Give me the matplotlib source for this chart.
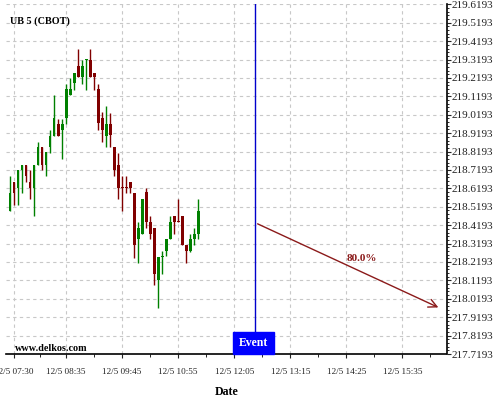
import numpy as np
import pandas as pd
import matplotlib
matplotlib.use("Agg")
import matplotlib.pyplot as plt
from matplotlib.ticker import FixedLocator, FuncFormatter, AutoMinorLocator
from matplotlib.patches import Rectangle
import matplotlib.transforms as mtransforms

# ---------------- data ----------------
title = "UB 5 (CBOT)"
bar_start = "07:25"   # first 5-minute bar
bar_step_min = 5
opens = [218.497, 218.655, 218.624, 218.721, 218.748, 218.655, 218.624, 218.748, 218.846, 218.748,
         218.846, 218.906, 218.970, 218.939, 219.001, 219.125, 219.192, 219.283, 219.223, 219.316,
         219.316, 219.248, 219.157, 219.001, 218.906, 218.970, 218.846, 218.748, 218.628, 218.628,
         218.655, 218.594, 218.346, 218.374, 218.597, 218.439, 218.406, 218.121, 218.248, 218.279,
         218.346, 218.470, 218.443, 218.470, 218.312, 218.279, 218.346, 218.374]
highs = [218.688, 218.655, 218.721, 218.748, 218.748, 218.721, 218.748, 218.874, 218.846, 218.815,
         218.939, 219.125, 218.997, 218.997, 219.188, 219.219, 219.248, 219.379, 219.316, 219.321,
         219.379, 219.248, 219.188, 219.033, 219.065, 219.028, 218.846, 218.810, 218.688, 218.688,
         218.655, 218.594, 218.437, 218.561, 218.621, 218.470, 218.406, 218.246, 218.279, 218.346,
         218.470, 218.470, 218.561, 218.470, 218.312, 218.374, 218.406, 218.561]
lows = [218.494, 218.530, 218.530, 218.596, 218.655, 218.563, 218.470, 218.748, 218.721, 218.688,
        218.814, 218.903, 218.903, 218.779, 218.970, 219.125, 219.156, 219.223, 219.188, 219.156,
        219.223, 219.156, 218.937, 218.870, 218.843, 218.846, 218.688, 218.561, 218.497, 218.594,
        218.594, 218.243, 218.215, 218.370, 218.403, 218.343, 218.092, 217.967, 218.152, 218.252,
        218.343, 218.374, 218.439, 218.312, 218.215, 218.275, 218.312, 218.343]
closes = [218.594, 218.594, 218.721, 218.748, 218.688, 218.624, 218.748, 218.846, 218.748, 218.815,
          218.906, 219.001, 218.906, 218.970, 219.157, 219.157, 219.248, 219.223, 219.283, 219.321,
          219.223, 219.223, 218.973, 218.939, 218.970, 218.908, 218.721, 218.624, 218.624, 218.624,
          218.624, 218.312, 218.406, 218.561, 218.439, 218.374, 218.155, 218.246, 218.252, 218.346,
          218.437, 218.437, 218.439, 218.312, 218.279, 218.346, 218.374, 218.497]

event_time = "12:31"
event_label = "Event"
arrow_start_price = 218.433
arrow_end_time = "16:23"
arrow_end_price = 217.966
arrow_label = "80.0%"

x_tick_times = ["07:30", "08:35", "09:45", "10:55", "12:05", "13:15", "14:25", "15:35"]
x_minor_times = ["08:02", "09:10", "10:20", "11:30", "12:40", "13:50", "15:00", "16:10"]
y_ticks = [217.7193, 217.8193, 217.9193, 218.0193, 218.1193, 218.2193, 218.3193, 218.4193,
           218.5193, 218.6193, 218.7193, 218.8193, 218.9193, 219.0193, 219.1193, 219.2193,
           219.3193, 219.4193, 219.5193, 219.6193]
x_range = ("07:20", "16:30")
y_range = (217.7193, 219.6213)
date_prefix = "12/5"
x_label = "Date"
watermark = "www.delkos.com"


def to_min(s):
    h, m = s.split(":")
    return int(h) * 60 + int(m)


# ---------------- figure ----------------
plt.rcParams["font.family"] = ["Liberation Serif", "DejaVu Serif"]
fig = plt.figure(figsize=(5, 4), dpi=100)
ax = fig.add_axes([0.012, 0.115, 0.881, 0.875])

up_c = "#008000"
dn_c = "#800000"

t0 = to_min(bar_start)
times = pd.Series(np.arange(len(opens)) * bar_step_min + t0)
o = np.array(opens); h = np.array(highs); l = np.array(lows); c = np.array(closes)
cols = [up_c if cc >= oo else dn_c for oo, cc in zip(o, c)]

ax.vlines(times, l, h, colors=cols, linewidth=1.0, zorder=3)
body_bot = np.minimum(o, c)
body_h = np.maximum(np.abs(c - o), 0.004)
ax.bar(times, body_h, bottom=body_bot, width=3.6, color=cols, linewidth=0, zorder=4)

# event line
ev = to_min(event_time)
ax.axvline(ev, color="#0000cc", linewidth=1.0, zorder=5)
trans = mtransforms.blended_transform_factory(ax.transData, ax.transAxes)
ax.add_patch(Rectangle((ev - 27, 0.0), 51, 0.063, transform=trans, color="#0000ff",
                       zorder=6, clip_on=False))
ax.text(ev - 1.5, 0.031, event_label, transform=trans, color="white", fontweight="bold",
        fontsize=8.5, ha="center", va="center", zorder=7)

# forecast arrow
arr_c = "#8b1a1a"
ax.annotate("", xy=(to_min(arrow_end_time), arrow_end_price), xytext=(ev, arrow_start_price),
            arrowprops=dict(arrowstyle="->,head_length=0.6,head_width=0.3", color=arr_c, lw=1.0),
            zorder=6)
ax.text(to_min("14:44"), 218.236, arrow_label, color=arr_c, fontweight="bold",
        fontsize=8, ha="center", va="center", zorder=7)

# texts
ax.text(to_min("07:25"), 219.528, title, fontweight="bold", fontsize=7.3,
        ha="left", va="center")
ax.text(to_min("07:31"), 217.750, watermark, fontweight="bold", fontsize=7.3,
        ha="left", va="center")

# axes
ax.set_xlim(to_min(x_range[0]), to_min(x_range[1]))
ax.set_ylim(*y_range)
ax.xaxis.set_major_locator(FixedLocator([to_min(s) for s in x_tick_times]))
ax.xaxis.set_minor_locator(FixedLocator([to_min(s) for s in x_minor_times]))
ax.xaxis.set_major_formatter(FuncFormatter(
    lambda v, p: f"{date_prefix} {int(v)//60:02d}:{int(v)%60:02d}"))
ax.yaxis.set_major_locator(FixedLocator(y_ticks))
ax.yaxis.set_minor_locator(AutoMinorLocator(5))
ax.yaxis.set_major_formatter(FuncFormatter(lambda v, p: f"{v:.4f}"))
ax.yaxis.tick_right()
ax.tick_params(axis="y", which="major", length=3, width=0.8, labelsize=8, pad=1, colors="#222222")
ax.tick_params(axis="y", which="minor", length=1.5, width=0.6)
ax.tick_params(axis="x", which="major", length=3, width=0.8, labelsize=6.6, pad=7, colors="#222222")
ax.tick_params(axis="x", which="minor", length=2, width=0.6)

for s in ["left", "top"]:
    ax.spines[s].set_visible(False)
for s in ["right", "bottom"]:
    ax.spines[s].set_linewidth(1.2)
    ax.spines[s].set_color("black")

ax.grid(True, which="major", color="#c8c8c8", linestyle=(0, (3, 3)), linewidth=0.8, zorder=0)
ax.set_axisbelow(True)
ax.set_xlabel(x_label, fontweight="bold", fontsize=8.6, labelpad=7)

fig.savefig("out.png", dpi=100)
